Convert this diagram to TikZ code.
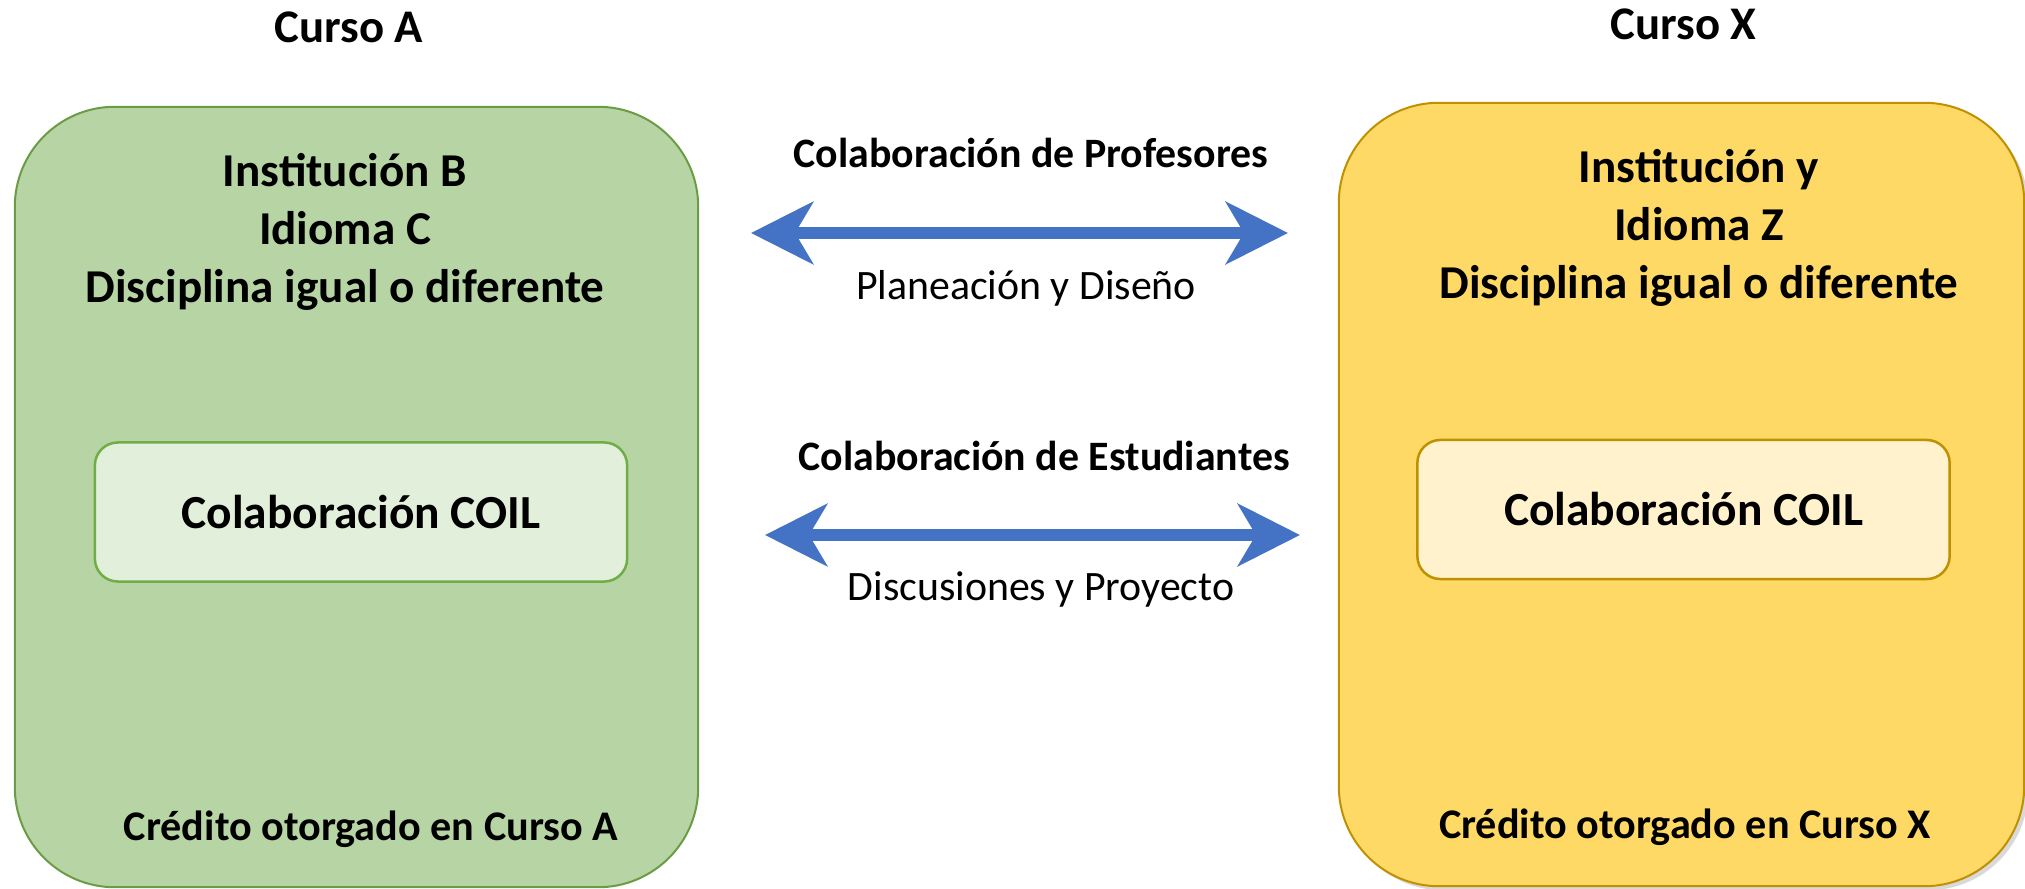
\documentclass[tikz,border=0pt]{standalone}
\usepackage{fontspec}
\setmainfont{Carlito}
\usetikzlibrary{arrows.meta,shadows}

\definecolor{greenfill}{HTML}{B7D5A4}
\definecolor{greenline}{HTML}{6A9C45}
\definecolor{greenpale}{HTML}{E2EFDA}
\definecolor{greenedge}{HTML}{70AD47}
\definecolor{goldfill}{HTML}{FFD966}
\definecolor{goldline}{HTML}{BF9000}
\definecolor{goldpale}{HTML}{FFF2CC}
\definecolor{linkblue}{HTML}{4472C4}

\tikzset{coursebox/.style={draw, line width=0.02cm, rounded corners=1cm}}
\tikzset{coilbox/.style={draw, line width=0.025cm, rounded corners=0.23cm,
  minimum width=5.32cm, minimum height=1.39cm,
  font=\fontsize{13.5}{16}\selectfont\bfseries}}
\tikzset{link/.style={draw=linkblue, line width=0.125cm,
  {Stealth[length=0.62cm,width=0.62cm,inset=0.18cm]}-{Stealth[length=0.62cm,width=0.62cm,inset=0.18cm]}}}
\tikzset{titletext/.style={anchor=base, font=\fontsize{13.3}{16}\selectfont\bfseries}}
\tikzset{headtext/.style={anchor=base, align=center, font=\fontsize{13.4}{16.36}\selectfont\bfseries}}
\tikzset{linktext/.style={anchor=base, font=\fontsize{11.9}{14}\selectfont\bfseries}}
\tikzset{subtext/.style={anchor=base, font=\fontsize{11.9}{14}\selectfont}}
\tikzset{credittext/.style={anchor=base, font=\fontsize{12}{14}\selectfont\bfseries}}

\begin{document}
\begin{tikzpicture}[x=0.01cm, y=-0.01cm]
\useasboundingbox (0,0) rectangle (2025,888);

% course boxes
\node[coursebox, fill=greenfill, draw=greenline, minimum width=6.83cm, minimum height=7.80cm] (boxA) at (356.5,497) {};
\node[coursebox, fill=goldfill, draw=goldline, minimum width=6.85cm, minimum height=7.83cm,
  drop shadow={shadow xshift=0.04cm, shadow yshift=-0.04cm, opacity=0.3}] (boxX) at (1681.5,494.5) {};

\node[titletext] (cursoA) at (349,43) {Curso A};
\node[titletext] (cursoX) at (1683.5,40) {Curso X};

% base of a multi-line node sits on its last line
\node[headtext] (headA) at (345,302) {Institución B\\Idioma C\\Disciplina igual o diferente};
\node[headtext] (headX) at (1699,298) {Institución y\\Idioma Z\\Disciplina igual o diferente};

\node[coilbox, fill=greenpale, draw=greenedge] (coilA) at (361,512) {Colaboración COIL};
\node[coilbox, fill=goldpale, draw=goldline] (coilX) at (1683.5,509.5) {Colaboración COIL};

\node[credittext] (creditA) at (371,840) {Crédito otorgado en Curso A};
\node[credittext] (creditX) at (1685,838) {Crédito otorgado en Curso X};

% two-way links
\coordinate (profL) at (751,233);
\coordinate (profR) at (1288,233);
\coordinate (estL) at (765,535);
\coordinate (estR) at (1300,535);
\draw[link] (profL) -- (profR);
\draw[link] (estL) -- (estR);

\node[linktext] (prof) at (1031,168) {Colaboración de Profesores};
\node[subtext] (plan) at (1026,299) {Planeación y Diseño};
\node[linktext] (est) at (1044,470) {Colaboración de Estudiantes};
\node[subtext] (disc) at (1041,600) {Discusiones y Proyecto};

\end{tikzpicture}
\end{document}
